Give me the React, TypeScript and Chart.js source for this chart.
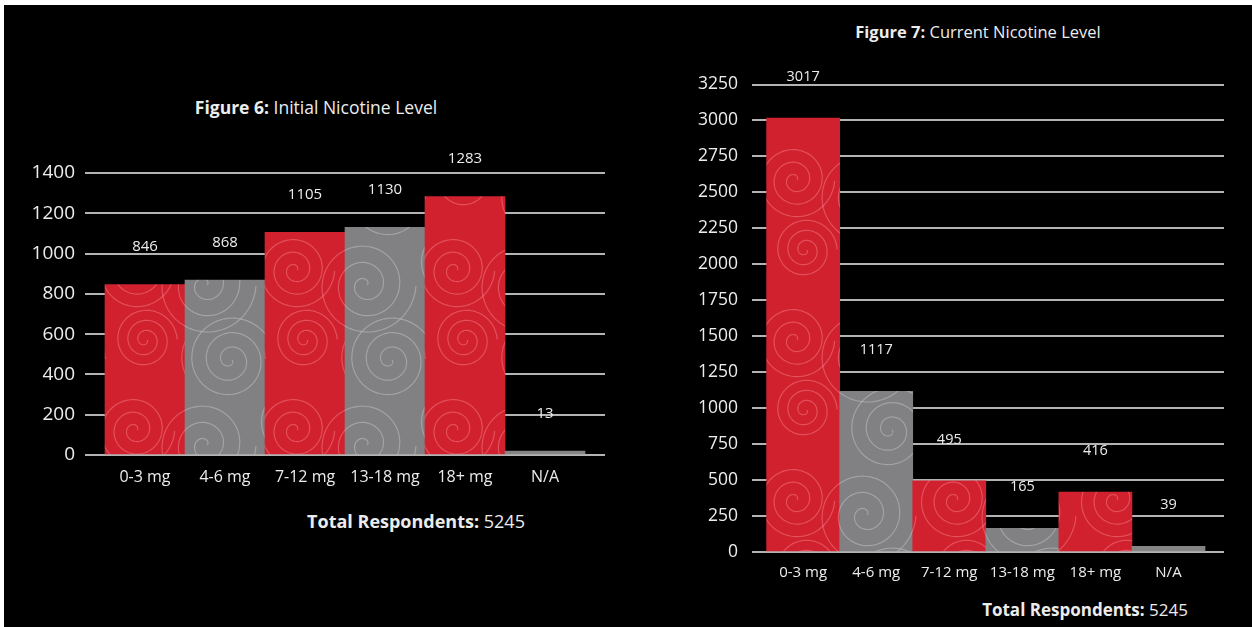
import React, { useEffect, useRef } from "react";
import { Chart, registerables } from "chart.js";

Chart.register(...registerables);

const categories = ["0-3 mg", "4-6 mg", "7-12 mg", "13-18 mg", "18+ mg", "N/A"];
const initialValues = [846, 868, 1105, 1130, 1283, 13];
const currentValues = [3017, 1117, 495, 165, 416, 39];
const initialTicks = [0, 200, 400, 600, 800, 1000, 1200, 1400];
const currentTicks = [0, 250, 500, 750, 1000, 1250, 1500, 1750, 2000, 2250, 2500, 2750, 3000, 3250];

const FONT = "'Open Sans', Lato, sans-serif";
const TEXT = "#ececec";

function makePattern(base: string, stroke: string, seed: number): CanvasPattern | string {
  const S = 160;
  const c = document.createElement("canvas");
  c.width = S;
  c.height = S;
  const g = c.getContext("2d");
  if (!g) return base;
  g.fillStyle = base;
  g.fillRect(0, 0, S, S);
  g.strokeStyle = stroke;
  g.lineWidth = 1.2;
  const spirals = [
    [45 + seed, 50, 1, 2.3],
    [120, 120 - seed, -1, 2.0],
    [130 - seed, 30, 1, 1.6],
    [30, 135, -1, 2.6],
  ];
  for (const [cx, cy, dir, k] of spirals) {
    for (const ox of [-S, 0, S]) {
      for (const oy of [-S, 0, S]) {
        g.beginPath();
        for (let t = 0; t <= Math.PI * 6; t += 0.07) {
          const r = 2 + k * t;
          const x = cx + ox + r * Math.cos(dir * t);
          const y = cy + oy + r * Math.sin(dir * t);
          if (t === 0) g.moveTo(x, y);
          else g.lineTo(x, y);
        }
        g.stroke();
      }
    }
  }
  return g.createPattern(c, "repeat") || base;
}

type PanelProps = {
  values: number[];
  tickValues: number[];
  left: number;
  top: number;
  width: number;
  height: number;
  yAxisWidth: number;
  xAxisHeight: number;
  padTop: number;
  padRight: number;
  xMin: number;
  xMax: number;
  yFont: number;
  xFont: number;
  xPad: number;
  valueFont: number;
  valueLift: number;
  yPad: number;
};

function BarPanel(p: PanelProps) {
  const ref = useRef<HTMLCanvasElement | null>(null);
  useEffect(() => {
    if (!ref.current) return;
    const red = makePattern("#d1202e", "rgba(255,160,165,0.38)", 0);
    const gray = makePattern("#818184", "rgba(205,205,208,0.45)", 10);
    const colors = p.values.map((_, i) => (i === p.values.length - 1 ? "#858585" : i % 2 === 0 ? red : gray));
    const valueLabels = {
      id: "valueLabels",
      afterDraw(chart: any) {
        const ctx = chart.ctx;
        const meta = chart.getDatasetMeta(0);
        ctx.save();
        ctx.fillStyle = TEXT;
        ctx.font = `${p.valueFont}px ${FONT}`;
        ctx.textAlign = "center";
        ctx.textBaseline = "bottom";
        meta.data.forEach((el: any, i: number) => {
          ctx.fillText(String(p.values[i]), el.x, el.y - p.valueLift);
        });
        ctx.restore();
      },
    };
    const chart = new Chart(ref.current, {
      type: "bar",
      data: {
        datasets: [
          {
            data: p.values.map((v, i) => ({ x: i, y: v })),
            backgroundColor: colors as any,
            borderWidth: 0,
            barPercentage: 1,
            categoryPercentage: 1,
            minBarLength: 4,
          },
        ],
      },
      options: {
        animation: false,
        responsive: false,
        maintainAspectRatio: false,
        layout: { padding: { top: p.padTop, right: p.padRight, left: 0, bottom: 0 } },
        plugins: { legend: { display: false }, tooltip: { enabled: false }, title: { display: false } },
        scales: {
          x: {
            type: "linear",
            offset: false,
            min: p.xMin,
            max: p.xMax,
            grid: { display: false, drawTicks: false },
            border: { display: false },
            afterBuildTicks: (s: any) => {
              s.ticks = categories.map((_, i) => ({ value: i }));
            },
            afterFit: (s: any) => {
              s.height = p.xAxisHeight;
            },
            ticks: {
              autoSkip: false,
              maxRotation: 0,
              color: TEXT,
              padding: p.xPad,
              font: { family: FONT, size: p.xFont },
              callback: (v: any) => categories[v] ?? "",
            },
          },
          y: {
            min: 0,
            max: p.tickValues[p.tickValues.length - 1],
            z: 1,
            afterBuildTicks: (s: any) => {
              s.ticks = p.tickValues.map((v) => ({ value: v }));
            },
            afterFit: (s: any) => {
              s.width = p.yAxisWidth;
            },
            grid: { color: "rgba(210,210,210,0.85)", lineWidth: 2, drawTicks: false },
            border: { display: false },
            ticks: {
              color: TEXT,
              padding: p.yPad,
              font: { family: FONT, size: p.yFont },
              callback: (v: any) => String(v),
            },
          },
        },
      },
      plugins: [valueLabels],
    });
    return () => chart.destroy();
  }, []);
  return (
    <canvas
      ref={ref}
      width={p.width}
      height={p.height}
      style={{ position: "absolute", left: p.left, top: p.top, width: p.width, height: p.height }}
    />
  );
}

export default function App() {
  const textBase: React.CSSProperties = {
    position: "absolute",
    color: TEXT,
    fontFamily: FONT,
    whiteSpace: "nowrap",
    transform: "translate(-50%, -50%)",
  };
  return (
    <div style={{ position: "absolute", left: 0, top: 0, width: 1252, height: 627, background: "#fff", overflow: "hidden" }}>
      <div style={{ position: "absolute", left: 4, top: 5, right: 0, bottom: 0, background: "#000" }} />
      <BarPanel
        values={initialValues}
        tickValues={initialTicks}
        left={15}
        top={150}
        width={615}
        height={343}
        yAxisWidth={70}
        xAxisHeight={38}
        padTop={23}
        padRight={25}
        xMin={-0.75}
        xMax={5.75}
        yFont={19}
        xFont={16}
        xPad={13}
        valueFont={15}
        valueLift={30}
        yPad={10}
      />
      <BarPanel
        values={currentValues}
        tickValues={currentTicks}
        left={675}
        top={60}
        width={565}
        height={530}
        yAxisWidth={77}
        xAxisHeight={38}
        padTop={19}
        padRight={16}
        xMin={-0.7}
        xMax={5.76}
        yFont={17.5}
        xFont={15}
        xPad={12}
        valueFont={14.5}
        valueLift={34}
        yPad={14}
      />
      <div style={{ ...textBase, left: 316, top: 107, fontSize: 17.5 }}>
        <b>Figure 6:</b> Initial Nicotine Level
      </div>
      <div style={{ ...textBase, left: 978, top: 31, fontSize: 16.5 }}>
        <b>Figure 7:</b> Current Nicotine Level
      </div>
      <div style={{ ...textBase, left: 416, top: 521, fontSize: 18 }}>
        <b>Total Respondents:</b> 5245
      </div>
      <div style={{ ...textBase, left: 1085, top: 609, fontSize: 17 }}>
        <b>Total Respondents:</b> 5245
      </div>
    </div>
  );
}
